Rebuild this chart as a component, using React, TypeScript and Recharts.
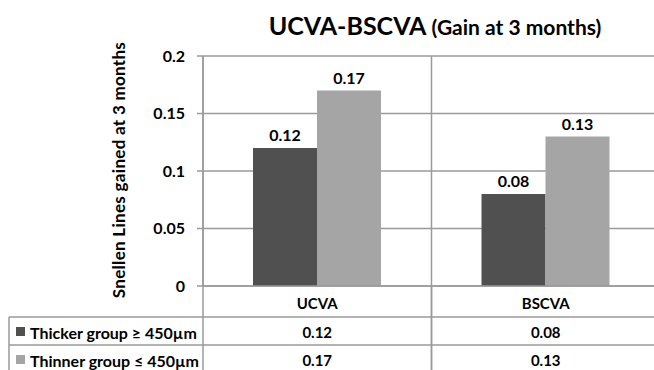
import React from 'react';
import { BarChart, Bar, XAxis, YAxis, CartesianGrid, LabelList } from 'recharts';

const categories = ['UCVA', 'BSCVA'];
const thickerValues = [0.12, 0.08];
const thinnerValues = [0.17, 0.13];
const seriesNames = ['Thicker group \u2265 450\u00b5m', 'Thinner group \u2264 450\u00b5m'];
const yTicks = [0, 0.05, 0.1, 0.15, 0.2];
const titleMain = 'UCVA-BSCVA';
const titleSub = '(Gain at 3 months)';
const yLabel = 'Snellen Lines gained at 3 months';

const DARK = '#505050';
const LIGHT = '#a5a5a5';
const GRID = '#9a9a9a';
const FONT = 'Lato, "Open Sans", sans-serif';

const data = categories.map((c, i) => ({ name: c, thicker: thickerValues[i], thinner: thinnerValues[i] }));
const seriesColors = [DARK, LIGHT];
const seriesValues = [thickerValues, thinnerValues];

const CHART_W = 660;
const CHART_H = 370;

function TableTick(props: any) {
  const { x, y, payload } = props;
  const idx = payload?.index ?? props.index ?? 0;
  const half = payload?.offset || 114;
  const rowTop1 = y + 31;
  const rowTop2 = y + 59;
  const textStyle = { fontFamily: FONT, fontWeight: 700, fontSize: 15, fill: '#000' } as any;
  const legendStyle = { fontFamily: FONT, fontWeight: 700, fontSize: 16, fill: '#000' } as any;
  return (
    <g>
      <line x1={x - half} x2={x - half} y1={y} y2={CHART_H} stroke={GRID} strokeWidth={1.5} />
      <line x1={x + half} x2={x + half} y1={y} y2={CHART_H} stroke={GRID} strokeWidth={1.5} />
      {idx === 0 && (
        <g>
          <line x1={9} x2={CHART_W} y1={rowTop1} y2={rowTop1} stroke={GRID} strokeWidth={1.5} />
          <line x1={9} x2={CHART_W} y1={rowTop2} y2={rowTop2} stroke={GRID} strokeWidth={1.5} />
          <line x1={9} x2={9} y1={rowTop1} y2={CHART_H} stroke={GRID} strokeWidth={1.5} />
          {seriesNames.map((n, k) => (
            <g key={n}>
              <rect x={16} y={(k === 0 ? rowTop1 : rowTop2) + 10} width={9} height={9} fill={seriesColors[k]} />
              <text x={30} y={(k === 0 ? rowTop1 : rowTop2) + 15} dominantBaseline="central" style={legendStyle}>
                {n}
              </text>
            </g>
          ))}
        </g>
      )}
      <text x={x} y={y + 17} textAnchor="middle" dominantBaseline="central" style={textStyle}>
        {payload.value}
      </text>
      {seriesValues.map((vals, k) => (
        <text
          key={k}
          x={x}
          y={(k === 0 ? rowTop1 : rowTop2) + 15}
          textAnchor="middle"
          dominantBaseline="central"
          style={textStyle}
        >
          {String(vals[idx])}
        </text>
      ))}
    </g>
  );
}

export default function App() {
  const labelStyle = { fontFamily: FONT, fontWeight: 700, fontSize: 16, fill: '#000' } as any;
  return (
    <div
      style={{
        position: 'absolute',
        left: 0,
        top: 0,
        width: 654,
        height: 370,
        overflow: 'hidden',
        background: '#fff',
        fontFamily: FONT,
      }}
    >
      <div
        style={{
          position: 'absolute',
          left: 185,
          top: 10,
          width: 500,
          textAlign: 'center',
          whiteSpace: 'nowrap',
          fontWeight: 700,
          color: '#000',
          lineHeight: '30px',
        }}
      >
        <span style={{ fontSize: 25 }}>{titleMain}</span>
        <span style={{ fontSize: 21 }}> {titleSub}</span>
      </div>
      <div
        style={{
          position: 'absolute',
          left: 118,
          top: 170,
          transform: 'translate(-50%, -50%) rotate(-90deg)',
          whiteSpace: 'nowrap',
          fontWeight: 700,
          fontSize: 17,
          letterSpacing: 0.3,
          color: '#000',
        }}
      >
        {yLabel}
      </div>
      <div style={{ position: 'absolute', left: 0, top: 0 }}>
        <BarChart
          width={CHART_W}
          height={CHART_H}
          data={data}
          margin={{ top: 56, right: 0, left: 160, bottom: 0 }}
          barCategoryGap={50}
          barGap={0}
        >
          <CartesianGrid
            stroke={GRID}
            strokeWidth={1.5}
            vertical={true}
            horizontal={true}
            verticalCoordinatesGenerator={({ offset }: any) => [offset.left, offset.left + offset.width / 2]}
          />
          <XAxis
            dataKey="name"
            height={84}
            axisLine={{ stroke: GRID, strokeWidth: 1.5 }}
            tickLine={false}
            tickSize={0}
            tickMargin={0}
            interval={0}
            tick={<TableTick />}
          />
          <YAxis
            width={43}
            domain={[0, 0.2]}
            ticks={yTicks}
            interval={0}
            axisLine={{ stroke: GRID, strokeWidth: 1.5 }}
            tickLine={{ stroke: GRID, strokeWidth: 1.5 }}
            tickSize={6}
            tickMargin={12}
            tick={{ fontFamily: FONT, fontWeight: 700, fontSize: 16, fill: '#000' }}
          />
          <Bar dataKey="thicker" fill={DARK} isAnimationActive={false}>
            <LabelList dataKey="thicker" position="top" offset={7} style={labelStyle} />
          </Bar>
          <Bar dataKey="thinner" fill={LIGHT} isAnimationActive={false}>
            <LabelList dataKey="thinner" position="top" offset={7} style={labelStyle} />
          </Bar>
        </BarChart>
      </div>
    </div>
  );
}
